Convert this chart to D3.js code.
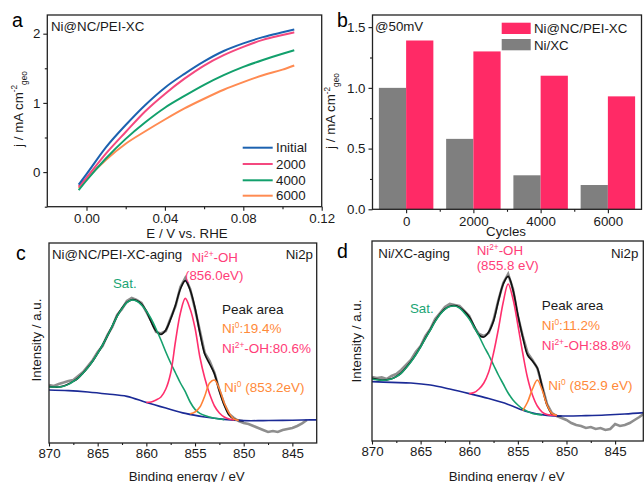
<!DOCTYPE html>
<html>
<head>
<meta charset="utf-8">
<script src="https://cdn.jsdelivr.net/npm/d3@7"></script>
<style>
  body { margin: 0; background: #fff; }
  svg { font-family: "Liberation Sans", Arial, sans-serif; }
</style>
</head>
<body>
<svg id="fig" width="644" height="482"></svg>
<script>
// ---- panel a : polarisation curves after cycling ----
const potential = [-0.004, 0, 0.01, 0.02, 0.03, 0.04, 0.05, 0.06, 0.07, 0.08, 0.09, 0.10, 0.106];
const jInitial = [-0.18, -0.03, 0.36, 0.68, 0.97, 1.22, 1.42, 1.60, 1.75, 1.86, 1.95, 2.02, 2.06];
const j2000 = [-0.21, -0.08, 0.27, 0.58, 0.88, 1.13, 1.35, 1.54, 1.69, 1.81, 1.91, 1.98, 2.02];
const j4000 = [-0.26, -0.12, 0.20, 0.48, 0.72, 0.93, 1.10, 1.26, 1.40, 1.52, 1.62, 1.71, 1.76];
const j6000 = [-0.23, -0.10, 0.18, 0.41, 0.59, 0.76, 0.92, 1.06, 1.19, 1.30, 1.40, 1.48, 1.54];
const lsvNames = ['Initial', '2000', '4000', '6000'];
const lsvColors = ['#1c62b0', '#f4487f', '#12a06c', '#ff8b52'];

// ---- panel b : current at 50 mV ----
const cycles = ['0', '2000', '4000', '6000'];
const jNiXC = [1.0, 0.58, 0.28, 0.20];
const jPEI = [1.39, 1.30, 1.10, 0.93];

// ---- panels c, d : Ni2p XPS (a.u.), 0.5 eV grid starting at the given energy ----
const bgEnergy = [870, 868, 866, 864, 862, 860, 858, 856, 854, 852, 850, 848, 846, 844, 842];

const rawC = [29, 28.5, 29.5, 30.2, 31, 31.5, 33.5, 35.5, 38.5, 41.5,
  45.5, 48.5, 54, 58, 64, 67, 71, 72.5, 71.5, 70,
  65.5, 61, 55.5, 54.8, 56, 62.5, 68.5, 78, 82.5, 77,
  67, 56, 45, 41, 35, 26.5, 19.5, 14.5, 12.5, 11,
  10, 9.5, 8.5, 7.5, 6.5, 5.5, 6, 5.5, 6.5, 7,
  7.5, 8.5, 9.8, 11.5];
const envC = [28.2, 28.0, 28.0, 28.5, 29.5, 30.8, 32.5, 35, 37.8, 41,
  44.8, 49, 53.5, 58.5, 63.5, 67.5, 70.3, 71.6, 71.2, 69.5,
  66, 60.5, 56, 54.3, 56.5, 62, 69, 77, 81.2, 76.5,
  67.5, 55, 44.5, 39.5, 34.5, 26, 19, 14, 12, 11.3, 11.1];
const satC = [28.0, 28.0, 28.0, 28.4, 29.3, 30.8, 32.5, 35, 37.8, 41,
  44.8, 49, 53.5, 58.5, 63.3, 67.3, 70.2, 71.5, 71, 69,
  66, 62, 57, 51.5, 45.5, 40, 35, 30, 25.7, 20.5,
  16.8, 14.8, 13.7, 13, 12.4, 12, 11.7];
const ni2C = [20.3, 20.5, 21.5, 23, 27, 35, 51, 65, 72.3, 67, 57.5, 43, 32.5, 24.5, 18.5, 15, 13, 12, 11.5];
const ni0C = [14.6, 15.5, 18, 23.5, 30, 31.5, 27, 20, 15, 12, 11.3];
const bgC = [26.5, 26.2, 25.5, 24.5, 23.3, 20.3, 17.5, 14.8, 13, 11.8, 11.2, 11.2, 11.3, 11.5, 11.6];

const rawD = [32, 31.5, 31.8, 31, 32.5, 33.5, 35.5, 38, 40.5, 44.5,
  47.5, 52.5, 56, 61, 64, 67, 68.5, 68, 67.5, 65,
  62.5, 57, 53.5, 52.5, 54, 60.5, 70.5, 79, 83.5, 76,
  62.5, 52.5, 44, 40.5, 36.5, 27.5, 18.5, 14, 12.5, 11.5,
  10.5, 9, 8, 7.5, 6.5, 7, 6, 6.5, 5.5, 6,
  8.5, 7.5, 8, 9, 10.5, 12, 13.8];
const envD = [31.3, 30.8, 30.5, 30.6, 31.1, 32.3, 34, 36.7, 39.7, 43.2,
  47.2, 51.5, 55.7, 60, 63.5, 66, 67.4, 67.7, 66.8, 64.8,
  62, 57.5, 53, 52, 54.5, 60, 70, 78.5, 82.3, 75.5,
  63, 52, 43, 40, 36.5, 27, 18, 13.5, 12.6, 12.5];
const satD = [31, 30.6, 30.4, 30.5, 31, 32.2, 33.8, 36.5, 39.5, 43,
  47, 51.3, 55.5, 59.8, 63.3, 65.8, 67.2, 67.5, 66.5, 64,
  61, 57, 52.5, 47.5, 43, 38, 33, 28.5, 24, 20.5,
  18, 16, 14.8, 13.8, 13.3, 13];
const ni2D = [23.7, 24.2, 26, 29, 34.5, 44, 56, 69.5, 78.5, 71, 58, 44, 31.5, 23, 17.5, 14.5, 13.3, 12.9, 12.7];
const ni0D = [15.2, 19.5, 26, 30.5, 25.5, 18, 13.8, 12.8];
const bgD = [29.7, 29.3, 29, 28, 26, 23.7, 21.2, 18.3, 14.6, 12.8, 12.5, 12.7, 13, 13.5, 14.2];

const FONT = '"Liberation Sans", Arial, sans-serif';
const INK = '#1a1a1a';
const svg = d3.select('#fig');

function frame(x0, y0, x1, y1) {
  svg.append('rect')
    .attr('x', x0).attr('y', y0)
    .attr('width', x1 - x0).attr('height', y1 - y0)
    .attr('fill', 'none').attr('stroke', '#222').attr('stroke-width', 1.3);
}

function styleAxis(g) {
  g.attr('font-family', FONT).attr('font-size', 13.3).style('color', INK);
  g.select('.domain').remove();
  g.selectAll('line').attr('stroke-width', 1.1);
}

function rich(x, y, parts, opts) {
  const o = Object.assign({ size: 13.3, fill: INK, anchor: 'start', rotate: false }, opts);
  const t = svg.append('text')
    .attr('font-size', o.size)
    .attr('fill', o.fill)
    .attr('text-anchor', o.anchor);
  if (o.rotate) t.attr('transform', `translate(${x},${y}) rotate(-90)`);
  else t.attr('x', x).attr('y', y);
  let shift = 0;
  parts.forEach(p => {
    const s = typeof p === 'string' ? { t: p } : p;
    const target = s.sup ? -o.size * 0.38 : s.sub ? o.size * 0.3 : 0;
    const ts = t.append('tspan').text(s.t).attr('dy', target - shift);
    if (s.sup || s.sub) ts.attr('font-size', o.size * 0.62);
    if (s.dx) ts.attr('dx', s.dx);
    shift = target;
  });
  return t;
}

function letter(x, y, s) {
  svg.append('text').attr('x', x).attr('y', y)
    .attr('font-size', 19.5).attr('fill', '#000').text(s);
}

// ================= panel a =================
{
  const L = 47.3, R = 321.7, T = 15, B = 206.7;
  const x = d3.scaleLinear().domain([-0.02, 0.12]).range([L, R]);
  const y = d3.scaleLinear().domain([-0.5, 2.27]).range([B, T]);

  const line = d3.line()
    .curve(d3.curveMonotoneX)
    .x(d => x(d[0]))
    .y(d => y(d[1]));
  const series = [jInitial, j2000, j4000, j6000];
  [3, 2, 1, 0].forEach(i => {
    svg.append('path')
      .datum(potential.map((e, k) => [e, series[i][k]]))
      .attr('fill', 'none')
      .attr('stroke', lsvColors[i])
      .attr('stroke-width', 2)
      .attr('d', line);
  });

  svg.append('g').attr('transform', `translate(0,${B})`)
    .call(d3.axisBottom(x).tickValues([0, 0.04, 0.08, 0.12]).tickFormat(d3.format('.2f'))
      .tickSize(4).tickPadding(3)).call(styleAxis);
  svg.append('g').attr('transform', `translate(0,${B})`)
    .call(d3.axisBottom(x).tickValues([0.02, 0.06, 0.10]).tickFormat('').tickSize(2.5)).call(styleAxis);
  svg.append('g').attr('transform', `translate(${L},0)`)
    .call(d3.axisLeft(y).tickValues([0, 1, 2]).tickFormat(d3.format('d'))
      .tickSize(4).tickPadding(3)).call(styleAxis);
  svg.append('g').attr('transform', `translate(${L},0)`)
    .call(d3.axisLeft(y).tickValues([-0.5, 0.5, 1.5]).tickFormat('').tickSize(2.5)).call(styleAxis);
  frame(L, T, R, B);

  // legend
  const ly = [147.7, 164, 180.3, 195.7];
  lsvNames.forEach((n, i) => {
    svg.append('line')
      .attr('x1', 242.7).attr('x2', 272.7)
      .attr('y1', ly[i]).attr('y2', ly[i])
      .attr('stroke', lsvColors[i]).attr('stroke-width', 2);
    svg.append('text').attr('x', 276).attr('y', ly[i] + 4.7)
      .attr('font-size', 13.3).attr('fill', INK).text(n);
  });

  letter(12, 27, 'a');
  rich(51, 30.5, ['Ni@NC/PEI-XC']);
  rich(22.5, 109, ['j / mA cm', { t: '-2', sup: true }, { t: 'geo', sub: true }],
    { anchor: 'middle', rotate: true });
  rich(187, 237.5, ['E / V vs. RHE'], { anchor: 'middle' });
}

// ================= panel b =================
{
  const L = 372.5, R = 641.5, T = 15, B = 209.3;
  const x = d3.scaleBand().domain(cycles).range([L, R]).paddingInner(0.19).paddingOuter(0.095);
  const xs = d3.scaleBand().domain(['NiXC', 'PEI']).range([0, x.bandwidth()]);
  const y = d3.scaleLinear().domain([0, 1.6]).range([B, T]);

  const g = svg.append('g');
  g.selectAll('rect.gray').data(cycles).join('rect')
    .attr('class', 'gray')
    .attr('x', d => x(d) + xs('NiXC'))
    .attr('width', xs.bandwidth())
    .attr('y', (d, i) => y(jNiXC[i]))
    .attr('height', (d, i) => B - y(jNiXC[i]))
    .attr('fill', '#7f7f7f');
  g.selectAll('rect.pink').data(cycles).join('rect')
    .attr('class', 'pink')
    .attr('x', d => x(d) + xs('PEI'))
    .attr('width', xs.bandwidth())
    .attr('y', (d, i) => y(jPEI[i]))
    .attr('height', (d, i) => B - y(jPEI[i]))
    .attr('fill', '#ff2a66');

  const centre = d3.scalePoint().domain(cycles).range([x(cycles[0]) + x.bandwidth() / 2, x(cycles[3]) + x.bandwidth() / 2]);
  svg.append('g').attr('transform', `translate(0,${B})`)
    .call(d3.axisBottom(centre).tickSize(4).tickPadding(3)).call(styleAxis);
  const step = x.step();
  svg.append('g').attr('transform', `translate(0,${B})`)
    .call(d3.axisBottom(d3.scaleLinear().domain([0, 1]).range([0, 1]))
      .tickValues(cycles.slice(0, 3).map(c => centre(c) + step / 2)).tickFormat('').tickSize(2.5))
    .call(styleAxis);
  svg.append('g').attr('transform', `translate(${L},0)`)
    .call(d3.axisLeft(y).tickValues([0, 0.5, 1.0, 1.5]).tickFormat(d3.format('.1f'))
      .tickSize(4).tickPadding(3)).call(styleAxis);
  svg.append('g').attr('transform', `translate(${L},0)`)
    .call(d3.axisLeft(y).tickValues([0.25, 0.75, 1.25]).tickFormat('').tickSize(2.5)).call(styleAxis);
  frame(L, T, R, B);

  // legend
  const legend = [['Ni@NC/PEI-XC', '#ff2a66', 22.7], ['Ni/XC', '#7f7f7f', 39]];
  legend.forEach(([n, c, yy]) => {
    svg.append('rect').attr('x', 501.7).attr('y', yy).attr('width', 29).attr('height', 11.3).attr('fill', c);
    svg.append('text').attr('x', 534).attr('y', yy + 10.6).attr('font-size', 13.3).attr('fill', INK).text(n);
  });

  letter(337, 27, 'b');
  rich(375, 30.5, ['@50mV']);
  rich(335, 111, ['j / mA cm', { t: '-2', sup: true }, { t: 'geo', sub: true }],
    { anchor: 'middle', rotate: true });
  rich(506, 236, ['Cycles'], { anchor: 'middle' });
}

// ================= panels c and d =================
function xpsPanel(o) {
  const x = d3.scaleLinear().domain(o.eDomain).range([o.L, o.R]);
  const y = d3.scaleLinear().domain([0, 100]).range([o.B, o.T]);
  const clipId = 'clip' + o.key;
  svg.append('clipPath').attr('id', clipId).append('rect')
    .attr('x', o.L).attr('y', o.T).attr('width', o.R - o.L).attr('height', o.B - o.T);
  const g = svg.append('g').attr('clip-path', `url(#${clipId})`);

  const grid = (start, vals) => vals.map((v, i) => [start - i * 0.5, v]);
  const smooth = d3.line().curve(d3.curveCatmullRom.alpha(0.5)).x(d => x(d[0])).y(d => y(d[1]));
  const jag = d3.line().x(d => x(d[0])).y(d => y(d[1]));

  g.append('path').datum(grid(870, o.raw)).attr('d', jag)
    .attr('fill', 'none').attr('stroke', '#8e8e8e').attr('stroke-width', 2.6);
  g.append('path').datum(grid(870, o.env)).attr('d', smooth)
    .attr('fill', 'none').attr('stroke', '#111').attr('stroke-width', 1.7);
  g.append('path').datum(bgEnergy.map((e, i) => [e, o.bg[i]])).attr('d', smooth)
    .attr('fill', 'none').attr('stroke', '#1b2a96').attr('stroke-width', 1.6);
  g.append('path').datum(grid(870, o.sat)).attr('d', smooth)
    .attr('fill', 'none').attr('stroke', '#16a06d').attr('stroke-width', 1.6);
  g.append('path').datum(grid(860, o.ni2)).attr('d', smooth)
    .attr('fill', 'none').attr('stroke', '#ff2f6d').attr('stroke-width', 1.6);
  g.append('path').datum(grid(o.ni0Start, o.ni0)).attr('d', smooth)
    .attr('fill', 'none').attr('stroke', '#ff8236').attr('stroke-width', 1.6);

  svg.append('g').attr('transform', `translate(0,${o.B})`)
    .call(d3.axisBottom(x).tickValues([870, 865, 860, 855, 850, 845]).tickFormat(d3.format('d'))
      .tickSize(3.5).tickPadding(2.5)).call(styleAxis);
  svg.append('g').attr('transform', `translate(0,${o.B})`)
    .call(d3.axisBottom(x).tickValues([867.5, 862.5, 857.5, 852.5, 847.5]).tickFormat('').tickSize(2))
    .call(styleAxis);
  frame(o.L, o.T, o.R, o.B);
  return { x, y };
}

// panel c
{
  xpsPanel({ key: 'c', L: 49, R: 316.7, T: 243, B: 443, eDomain: [870, 842.5],
    raw: rawC, env: envC, sat: satC, ni2: ni2C, ni0: ni0C, ni0Start: 855.5, bg: bgC });
  letter(16, 260, 'c');
  rich(52, 259.3, ['Ni@NC/PEI-XC-aging']);
  rich(313, 259.3, ['Ni2p'], { anchor: 'end' });
  rich(191.5, 261.7, ['Ni', { t: '2+', sup: true }, '-OH'], { fill: '#ff3d78' });
  rich(185, 280, ['(856.0eV)'], { fill: '#ff3d78' });
  rich(113, 288.3, ['Sat.'], { fill: '#1aa574' });
  rich(222, 314.3, ['Peak area'], { size: 13.5 });
  rich(222, 333.3, ['Ni', { t: '0', sup: true }, ':19.4%'], { size: 13.5, fill: '#ff8a3a' });
  rich(222, 353.3, ['Ni', { t: '2+', sup: true }, '-OH:80.6%'], { size: 13.5, fill: '#ff3d78' });
  rich(224, 391.7, ['Ni', { t: '0', sup: true }, ' (853.2eV)'], { size: 13.5, fill: '#ff8a3a' });
  rich(41, 340, ['Intensity / a.u.'], { anchor: 'middle', rotate: true });
  rich(186.7, 480.5, ['Binding energy / eV'], { anchor: 'middle' });
}

// panel d
{
  xpsPanel({ key: 'd', L: 372, R: 643.3, T: 241, B: 441, eDomain: [870, 842.1],
    raw: rawD, env: envD, sat: satD, ni2: ni2D, ni0: ni0D, ni0Start: 854.5, bg: bgD });
  letter(337, 258, 'd');
  rich(378.3, 258.3, ['Ni/XC-aging']);
  rich(638.3, 258.3, ['Ni2p'], { anchor: 'end' });
  rich(476.7, 255, ['Ni', { t: '2+', sup: true }, '-OH'], { fill: '#ff3d78' });
  rich(476.7, 269.5, ['(855.8 eV)'], { fill: '#ff3d78' });
  rich(410, 313.3, ['Sat.'], { fill: '#1aa574' });
  rich(541.7, 310, ['Peak area'], { size: 13.5 });
  rich(541.7, 330, ['Ni', { t: '0', sup: true }, ':11.2%'], { size: 13.5, fill: '#ff8a3a' });
  rich(541.7, 350, ['Ni', { t: '2+', sup: true }, '-OH:88.8%'], { size: 13.5, fill: '#ff3d78' });
  rich(548.3, 390, ['Ni', { t: '0', sup: true }, ' (852.9 eV)'], { size: 13.5, fill: '#ff8a3a' });
  rich(361, 341, ['Intensity / a.u.'], { anchor: 'middle', rotate: true });
  rich(506.7, 480.5, ['Binding energy / eV'], { anchor: 'middle' });
}
</script>
</body>
</html>
